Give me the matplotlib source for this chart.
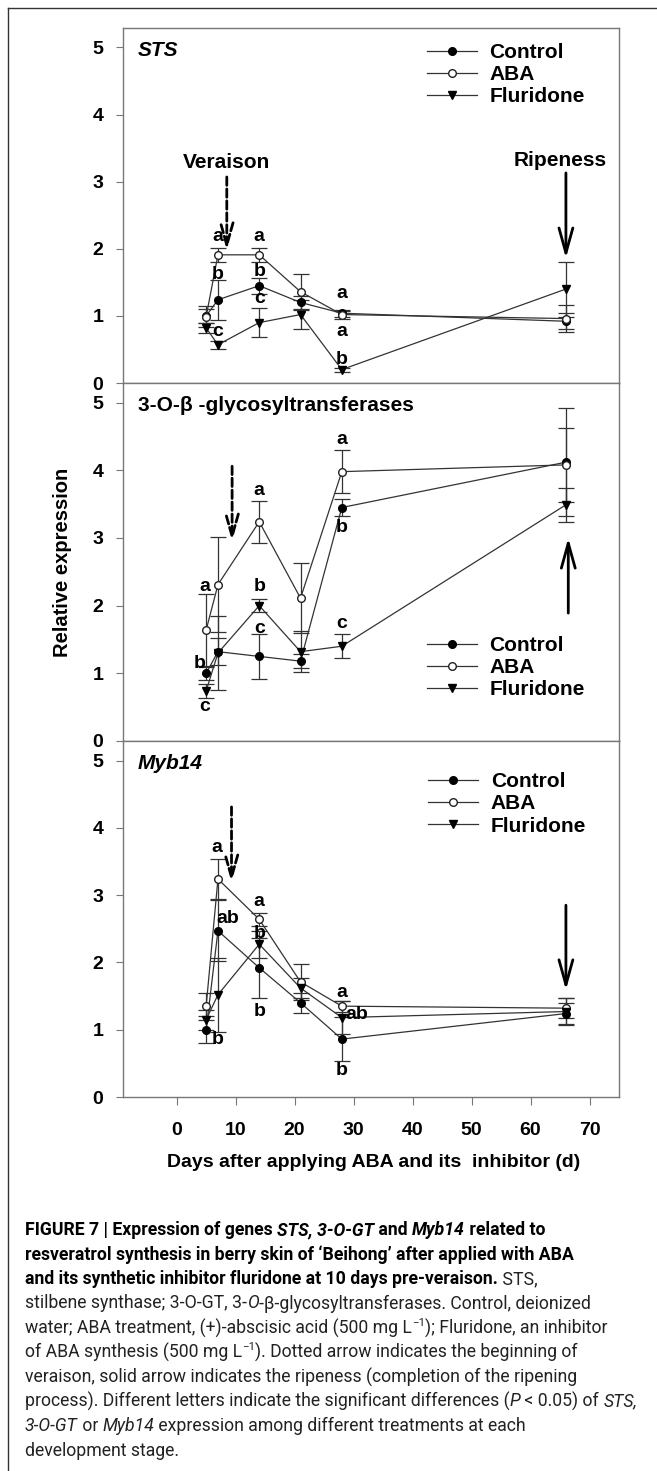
import matplotlib
matplotlib.use('Agg')
import matplotlib.pyplot as plt
from matplotlib.lines import Line2D

# sampling days
days = [5, 7, 14, 21, 28, 66]

# STS
sts_ctrl = [1.00, 1.24, 1.45, 1.20, 1.04, 0.92]
sts_ctrl_err = [0.10, 0.30, 0.12, 0.10, 0.05, 0.12]
sts_aba = [0.99, 1.91, 1.91, 1.36, 1.02, 0.96]
sts_aba_err = [0.15, 0.10, 0.10, 0.27, 0.06, 0.20]
sts_flu = [0.82, 0.57, 0.90, 1.02, 0.20, 1.40]
sts_flu_err = [0.08, 0.06, 0.22, 0.22, 0.03, 0.41]

# 3-O-GT
gt_ctrl = [1.00, 1.32, 1.25, 1.18, 3.45, 4.12]
gt_ctrl_err = [0.10, 0.20, 0.33, 0.10, 0.12, 0.80]
gt_aba = [1.64, 2.31, 3.24, 2.11, 3.98, 4.08]
gt_aba_err = [0.53, 0.70, 0.31, 0.52, 0.32, 0.55]
gt_flu = [0.74, 1.30, 2.00, 1.32, 1.40, 3.49]
gt_flu_err = [0.10, 0.55, 0.10, 0.30, 0.18, 0.25]

# Myb14
myb_ctrl = [1.00, 2.47, 1.92, 1.40, 0.86, 1.24]
myb_ctrl_err = [0.20, 0.45, 0.45, 0.15, 0.33, 0.15]
myb_aba = [1.35, 3.24, 2.64, 1.71, 1.35, 1.32]
myb_aba_err = [0.20, 0.30, 0.10, 0.27, 0.08, 0.15]
myb_flu = [1.15, 1.52, 2.27, 1.62, 1.18, 1.27]
myb_flu_err = [0.15, 0.55, 0.20, 0.15, 0.25, 0.20]

# significance letters (x, y, text)
sts_letters = [(7, 2.18, 'a'), (7, 1.61, 'b'), (7, 0.76, 'c'),
               (14, 2.18, 'a'), (14, 1.66, 'b'), (14, 1.26, 'c'),
               (28, 1.34, 'a'), (28, 0.76, 'a'), (28, 0.35, 'b')]
gt_letters = [(4.8, 2.29, 'a'), (3.9, 1.15, 'b'), (4.8, 0.51, 'c'),
              (14, 3.70, 'a'), (14, 2.28, 'b'), (14, 1.66, 'c'),
              (28, 4.45, 'a'), (28, 3.15, 'b'), (28, 1.74, 'c')]
myb_letters = [(6.8, 3.71, 'a'), (8.6, 2.65, 'ab'), (7.0, 0.85, 'b'),
               (14, 2.90, 'a'), (14, 2.43, 'b'), (14, 1.27, 'b'),
               (28, 1.56, 'a'), (30.5, 1.23, 'ab'), (28, 0.40, 'b')]

# arrows: (x, y_start, y_end)
veraison = [(8.5, 3.07, 1.98), (9.4, 4.06, 2.95), (9.3, 4.31, 3.19)]
ripeness = [(66, 3.13, 1.86), (66.4, 1.89, 3.00), (66, 2.85, 1.59)]

panel_names = ['STS', '3-O-\u03b2 -glycosyltransferases', 'Myb14']
panel_italic = [True, False, True]
legend_pos = [(0.6125, 0.958), (0.6125, 0.293), (0.615, 0.912)]

W, H = 657, 1471
fig = plt.figure(figsize=(W / 100, H / 100), dpi=100)
plt.rcParams['font.family'] = ['Liberation Sans', 'DejaVu Sans']

left, width = 122.7 / W, 496.3 / W
tops = [28, 383, 741, 1097]

data = [
    (sts_ctrl, sts_ctrl_err, sts_aba, sts_aba_err, sts_flu, sts_flu_err, sts_letters),
    (gt_ctrl, gt_ctrl_err, gt_aba, gt_aba_err, gt_flu, gt_flu_err, gt_letters),
    (myb_ctrl, myb_ctrl_err, myb_aba, myb_aba_err, myb_flu, myb_flu_err, myb_letters),
]

lc = '#333333'
axes = []
for i, (c, ce, a, ae, f, fe, letters) in enumerate(data):
    bottom = 1 - tops[i + 1] / H
    height = (tops[i + 1] - tops[i]) / H
    ax = fig.add_axes([left, bottom, width, height])
    axes.append(ax)
    eb = dict(color=lc, lw=0.9, elinewidth=0.9, capsize=6, capthick=0.9, ms=5.5)
    ax.errorbar(days, c, yerr=ce, marker='o', mfc='black', mec='black', **eb)
    ax.errorbar(days, a, yerr=ae, marker='o', mfc='white', mec='#222222', **eb)
    ax.errorbar(days, f, yerr=fe, marker='v', mfc='black', mec='black', **eb)
    for x, y, t in letters:
        ax.text(x, y, t, ha='center', va='center', fontsize=14, fontweight='bold')
    ax.set_xlim(-9.15, 75)
    ax.set_ylim(0, 5.29)
    ax.set_yticks(range(6))
    ax.tick_params(axis='y', direction='out', length=5, width=0.8, color='#777777',
                   pad=9, labelsize=14)
    for lab in ax.get_yticklabels():
        lab.set_fontweight('bold')
    for s in ax.spines.values():
        s.set_color('#777777')
        s.set_linewidth(1)
    # panel title
    ax.text(0.03, 0.938, panel_names[i], transform=ax.transAxes, ha='left', va='center',
            fontsize=15, fontweight='bold', style='italic' if panel_italic[i] else 'normal')
    # legend
    handles = [Line2D([], [], color=lc, lw=0.9, marker='o', mfc='black', mec='black', ms=5.5),
               Line2D([], [], color=lc, lw=0.9, marker='o', mfc='white', mec='#222222', ms=5.5),
               Line2D([], [], color=lc, lw=0.9, marker='v', mfc='black', mec='black', ms=5.5)]
    ax.legend(handles, ['Control', 'ABA', 'Fluridone'], loc='upper left',
              bbox_to_anchor=legend_pos[i], frameon=False, borderpad=0, borderaxespad=0,
              handlelength=2.4, handletextpad=0.62, labelspacing=0.15,
              prop={'weight': 'bold', 'size': 15})
    # veraison (dashed) and ripeness (solid) arrows
    vx, vy0, vy1 = veraison[i]
    ax.annotate('', xy=(vx, vy1), xytext=(vx, vy0),
                arrowprops=dict(arrowstyle='->,head_length=1.6,head_width=0.45',
                                lw=2, ls=(0, (3, 1.3)), color='black',
                                shrinkA=0, shrinkB=0))
    rx, ry0, ry1 = ripeness[i]
    ax.annotate('', xy=(rx, ry1), xytext=(rx, ry0),
                arrowprops=dict(arrowstyle='->,head_length=1.8,head_width=0.5',
                                lw=2, color='black', shrinkA=0, shrinkB=0))
    if i < 2:
        ax.set_xticks([])

axes[0].text(8.5, 3.28, 'Veraison', ha='center', va='center', fontsize=15, fontweight='bold')
axes[0].text(65, 3.32, 'Ripeness', ha='center', va='center', fontsize=15, fontweight='bold')

axes[1].set_ylabel('Relative expression', fontsize=14.5, fontweight='bold')
axes[1].yaxis.set_label_coords(-0.102, 0.5)

ax = axes[2]
ax.set_xticks(range(0, 80, 10))
ax.tick_params(axis='x', direction='out', length=6, width=0.8, color='#777777',
               pad=12, labelsize=14)
for lab in ax.get_xticklabels():
    lab.set_fontweight('bold')
ax.set_xlabel('Days after applying ABA and its  inhibitor (d)', fontsize=14, fontweight='bold')
ax.xaxis.set_label_coords(0.505, -0.16)

# outer frame lines (top and left)
fig.add_artist(Line2D([8 / W, 1], [1 - 8 / H, 1 - 8 / H], color='#333333', lw=1))
fig.add_artist(Line2D([8 / W, 8 / W], [0, 1 - 8 / H], color='#333333', lw=1))

# caption, drawn segment by segment
cap_font = ['Roboto', 'DejaVu Sans']
caption = [
    [('FIGURE 7 | Expression of genes ', 'b'), ('STS, 3-O-GT', 'bi'), (' and ', 'b'),
     ('Myb14', 'bi'), (' related to', 'b')],
    [('resveratrol synthesis in berry skin of \u2018Beihong\u2019 after applied with ABA', 'b')],
    [('and its synthetic inhibitor fluridone at 10 days pre-veraison.', 'b'), (' STS,', 'r')],
    [('stilbene synthase; 3-O-GT, 3-', 'r'), ('O', 'i'),
     ('-\u03b2-glycosyltransferases. Control, deionized', 'r')],
    [('water; ABA treatment, (+)-abscisic acid (500 mg L', 'r'), ('\u22121', 's'),
     ('); Fluridone, an inhibitor', 'r')],
    [('of ABA synthesis (500 mg L', 'r'), ('\u22121', 's'),
     ('). Dotted arrow indicates the beginning of', 'r')],
    [('veraison, solid arrow indicates the ripeness (completion of the ripening', 'r')],
    [('process). Different letters indicate the significant differences (', 'r'), ('P', 'i'),
     (' < 0.05) of ', 'r'), ('STS,', 'i')],
    [('3-O-GT', 'i'), (' or ', 'r'), ('Myb14', 'i'),
     (' expression among different treatments at each', 'r')],
    [('development stage.', 'r')],
]
renderer = fig.canvas.get_renderer()


def seg_props(st, size):
    return dict(fontsize=size * 0.65 if st == 's' else size, family=cap_font,
                fontweight='bold' if 'b' in st else 'normal',
                style='italic' if 'i' in st else 'normal',
                color='black' if 'b' in st else '#222222')


def line_width(segs, size):
    w = 0
    for txt, st in segs:
        t = fig.text(0, 0, txt, **seg_props(st, size))
        w += t.get_window_extent(renderer).width
        t.remove()
    return w


# fit the longest line into the text block width
cap_size = 14
widest = max(line_width(segs, cap_size) for segs in caption)
cap_size = cap_size * 618 / widest

for k, segs in enumerate(caption):
    x = 25
    y = 1230 + k * 24.5
    for txt, st in segs:
        yy = y - 5 if st == 's' else y
        t = fig.text(x / W, 1 - yy / H, txt, ha='left', va='center', **seg_props(st, cap_size))
        x += t.get_window_extent(renderer).width

fig.savefig('out.png', dpi=100)
